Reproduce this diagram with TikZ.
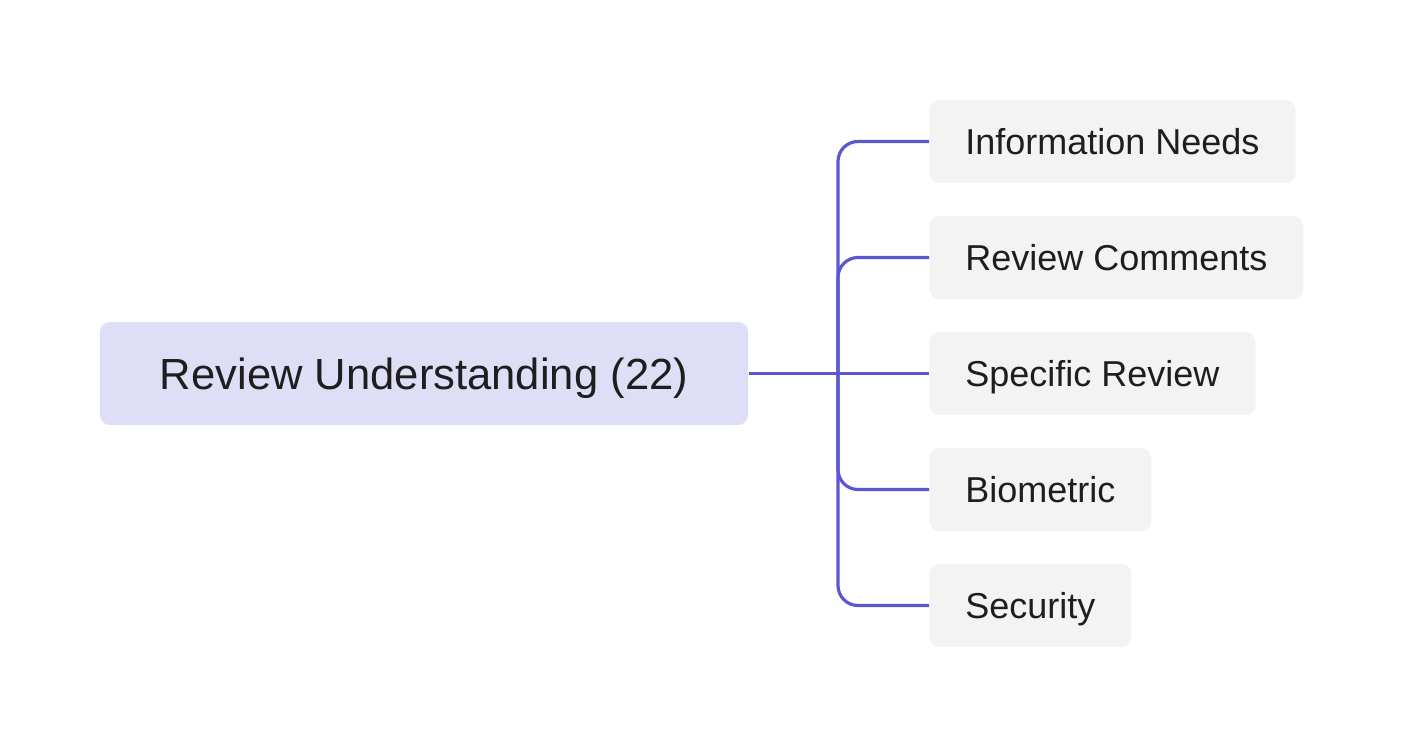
\documentclass[tikz,border=0pt]{standalone}
\usepackage{fontspec}
\setmainfont{Liberation Sans}
\definecolor{linec}{HTML}{5B57D1}
\definecolor{mainfill}{HTML}{DFDEF7}
\definecolor{childfill}{HTML}{F3F3F3}
\definecolor{txt}{HTML}{1E1E1E}
\tikzset{
  rootbox/.style={fill=mainfill, rounded corners=5pt, minimum height=51.5pt, inner xsep=30pt, inner ysep=0pt, text height=16pt, text depth=0pt, text=txt, font=\fontsize{21.8}{26}\selectfont, anchor=center},
  childbox/.style={fill=childfill, rounded corners=5pt, minimum height=41.5pt, inner xsep=18pt, inner ysep=0pt, text height=13.4pt, text depth=0pt, text=txt, font=\fontsize{18}{22}\selectfont, anchor=west},
  conn/.style={draw=linec, line width=1.6pt, rounded corners=10pt}
}
\begin{document}
\begin{tikzpicture}[x=0.5pt,y=-0.5pt]
\useasboundingbox (0,0) rectangle (1404,748);
\node[rootbox] (root) at (424,373.5) {Review Understanding (22)};
\node[childbox] (c1) at (929,141.5) {Information Needs};
\node[childbox] (c2) at (929,257.5) {Review Comments};
\node[childbox] (c3) at (929,373.5) {Specific Review};
\node[childbox] (c4) at (929,489.5) {Biometric};
\node[childbox] (c5) at (929,605.5) {Security};
\coordinate (j) at (838,373.5);
\draw[conn] (root.east) -- (c3.west);
\draw[conn] (j) |- (c1.west);
\draw[conn] (j) |- (c2.west);
\draw[conn] (j) |- (c4.west);
\draw[conn] (j) |- (c5.west);
\end{tikzpicture}
\end{document}
